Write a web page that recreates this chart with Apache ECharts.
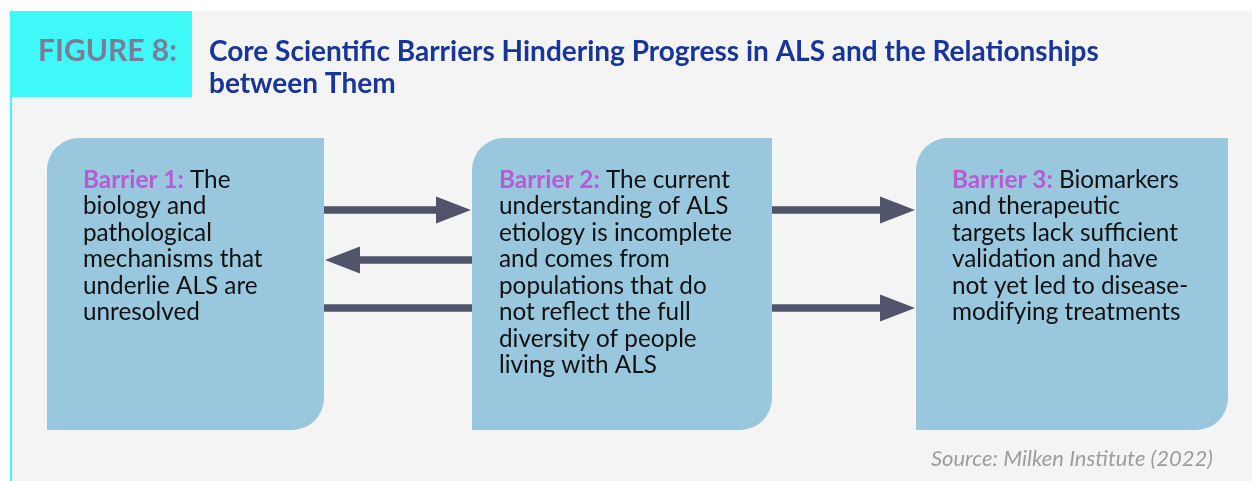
<!DOCTYPE html>
<html>
<head>
<meta charset="UTF-8">
<title>Figure 8</title>
<script src="https://cdn.jsdelivr.net/npm/echarts@6/dist/echarts.min.js"></script>
<style>
html, body { margin: 0; padding: 0; background: #fff; }
#fig { width: 1252px; height: 481px; }
</style>
</head>
<body>
<div id="fig"></div>
<script>
// figure texts
var figureLabel = 'FIGURE 8:';
var figureTitle = ['Core Scientific Barriers Hindering Progress in ALS and the Relationships', 'between Them'];
var sourceNote = 'Source: Milken Institute (2022)';

// the three barriers (label + wrapped lines of the description)
var barrierNames = ['Barrier 1:', 'Barrier 2:', 'Barrier 3:'];
var barrierLines = [
  ['The', 'biology and', 'pathological', 'mechanisms that', 'underlie ALS are', 'unresolved'],
  ['The current', 'understanding of ALS', 'etiology is incomplete', 'and comes from', 'populations that do', 'not reflect the full', 'diversity of people', 'living with ALS'],
  ['Biomarkers', 'and therapeutic', 'targets lack sufficient', 'validation and have', 'not yet led to disease-', 'modifying treatments']
];

// relationships: from barrier -> to barrier, drawn on arrow row
var linkFrom = [0, 1, 1, 0];
var linkTo   = [1, 0, 2, 2];
var linkRow  = [0, 1, 0, 2];

// layout (pixel units of the hidden axes)
var boxLeft = [47, 472, 916];
var boxRight = [324, 772, 1228];
var boxTop = 138, boxBottom = 430;
var textPad = [36, 27, 36];
var rowY = [210, 260, 308];

var C = {
  panel: '#f4f4f4', cyan: '#3ff9f9', box: '#99c7de', arrow: '#51546a',
  label: '#b65bd3', text: '#111111', figGrey: '#7b7c98', titleBlue: '#17359b', source: '#9d9d9d'
};
var FONT = 'Lato, "Open Sans", sans-serif';

function renderBox(params, api) {
  var i = api.value(0);
  var p0 = api.coord([boxLeft[i], boxTop]);
  var p1 = api.coord([boxRight[i], boxBottom]);
  var txt = '{b|' + barrierNames[i] + '} ' + barrierLines[i].join('\n');
  return {
    type: 'group',
    children: [{
      type: 'rect',
      shape: { x: p0[0], y: p0[1], width: p1[0] - p0[0], height: p1[1] - p0[1], r: [32, 0, 32, 0] },
      style: { fill: C.box }
    }, {
      type: 'text',
      x: p0[0] + textPad[i],
      y: 166.5,
      style: {
        text: txt,
        fill: C.text,
        font: '24.3px ' + FONT,
        lineHeight: 26.5,
        verticalAlign: 'top',
        rich: {
          b: { fill: C.label, fontWeight: 'bold', fontSize: 24.3, fontFamily: FONT, lineHeight: 26.5 }
        }
      }
    }]
  };
}

function renderLink(params, api) {
  var i = api.value(0);
  var a = linkFrom[i], b = linkTo[i];
  var lo = Math.min(a, b), hi = Math.max(a, b);
  var y = api.coord([0, rowY[linkRow[i]]])[1];
  var half = 3.8, headLen = 36, headHalf = 13.5;
  var kids = [];
  for (var k = lo; k < hi; k++) {
    var xs = api.coord([boxRight[k], 0])[0];
    var xe = api.coord([boxLeft[k + 1], 0])[0];
    var headHere = (b > a && k + 1 === b) || (b < a && k === b);
    var l = xs, r = xe;
    if (headHere && b > a) {
      r = xe - headLen;
      kids.push({ type: 'polygon', shape: { points: [[r, y - headHalf], [xe - 1, y], [r, y + headHalf]] }, style: { fill: C.arrow } });
    } else if (headHere) {
      l = xs + headLen;
      kids.push({ type: 'polygon', shape: { points: [[l, y - headHalf], [xs + 1, y], [l, y + headHalf]] }, style: { fill: C.arrow } });
    }
    kids.push({ type: 'rect', shape: { x: l, y: y - half, width: r - l, height: half * 2 }, style: { fill: C.arrow } });
  }
  return { type: 'group', children: kids };
}

var chart = echarts.init(document.getElementById('fig'), null, { renderer: 'canvas' });

chart.setOption({
  backgroundColor: '#ffffff',
  animation: false,
  title: [{
    text: figureLabel,
    left: 38, top: 35, padding: 0,
    textStyle: { color: C.figGrey, fontFamily: FONT, fontSize: 30, fontWeight: 'bold', lineHeight: 32 }
  }, {
    text: figureTitle.join('\n'),
    left: 209, top: 36, padding: 0,
    textStyle: { color: C.titleBlue, fontFamily: FONT, fontSize: 28, fontWeight: 'bold', lineHeight: 32 }
  }],
  graphic: [
    { type: 'rect', z: -10, shape: { x: 10, y: 11, width: 1242, height: 470 }, style: { fill: C.panel } },
    { type: 'rect', z: -9, shape: { x: 10, y: 11, width: 182, height: 86 }, style: { fill: C.cyan } },
    { type: 'rect', z: -9, shape: { x: 10, y: 11, width: 2, height: 470 }, style: { fill: C.cyan } },
    {
      type: 'text', right: 39, top: 448,
      style: { text: sourceNote, fill: C.source, font: 'italic 22px ' + FONT }
    }
  ],
  grid: { left: 0, right: 0, top: 0, bottom: 0 },
  xAxis: { type: 'value', min: 0, max: 1252, show: false },
  yAxis: { type: 'value', min: 0, max: 481, inverse: true, show: false },
  series: [{
    type: 'custom',
    name: 'barriers',
    clip: false,
    data: barrierNames.map(function (n, i) { return [i, 0]; }),
    renderItem: renderBox,
    z: 2
  }, {
    type: 'custom',
    name: 'links',
    clip: false,
    data: linkFrom.map(function (f, i) { return [i, 0]; }),
    renderItem: renderLink,
    z: 3
  }]
});
</script>
</body>
</html>
